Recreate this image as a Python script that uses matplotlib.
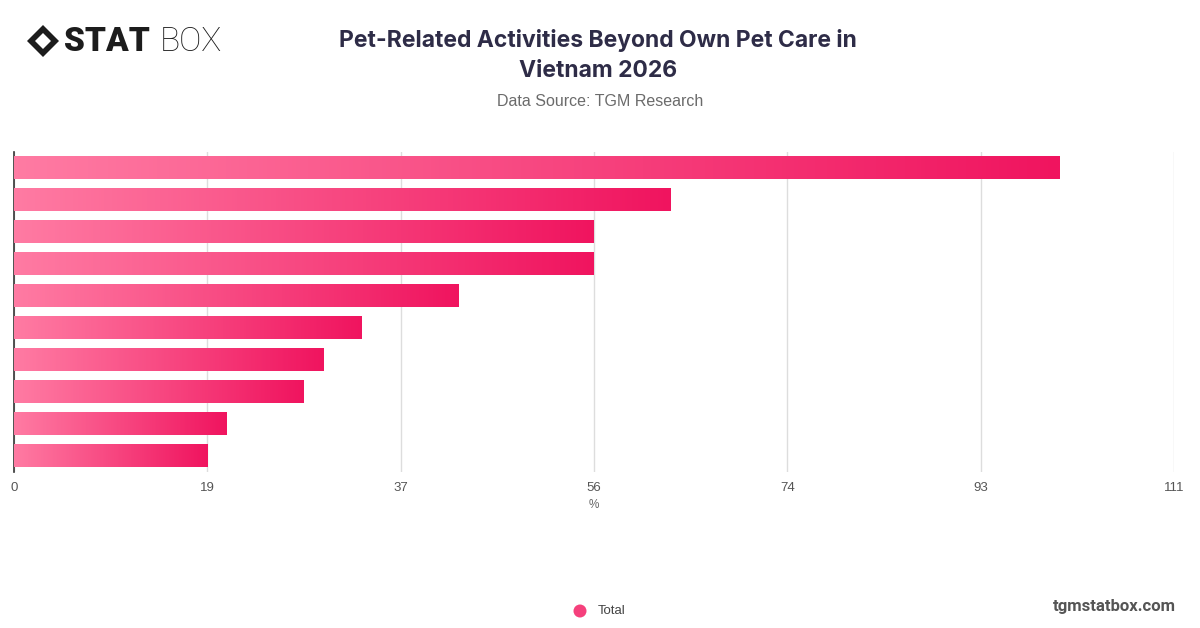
import matplotlib.pyplot as plt
import numpy as np
from matplotlib.colors import LinearSegmentedColormap
from matplotlib.patches import Polygon, Ellipse

# values (%), top bar first; categories have no labels shown
values = [100, 62.8, 55.5, 55.5, 42.5, 33.3, 29.6, 27.7, 20.3, 18.5]
tick_vals = [0, 18.5, 37, 55.5, 74, 92.5, 111]
tick_labels = ['0', '19', '37', '56', '74', '93', '111']
series_name = 'Total'

plt.rcParams['font.family'] = ['Inter', 'DejaVu Sans']
helv = ['Liberation Sans', 'DejaVu Sans']

fig = plt.figure(figsize=(12, 6.28), dpi=100)
ax = fig.add_axes([14 / 1200, 1 - 472 / 628, 1160 / 1200, 320 / 628])

cmap = LinearSegmentedColormap.from_list('pink', ['#ff7ba3', '#f0145f'])
grad = np.linspace(0, 1, 256).reshape(1, -1)
h = 0.69
for i, v in enumerate(values):
    ax.imshow(grad, cmap=cmap, aspect='auto', extent=[0, v, i + h / 2, i - h / 2],
              zorder=3, interpolation='nearest')

ax.set_xlim(0, 111)
ax.set_ylim(len(values) - 0.5, -0.5)
ax.set_xticks(tick_vals)
ax.set_xticklabels(tick_labels, fontsize=9.5, color='#555555', family=helv)
ax.set_yticks([])
ax.grid(axis='x', color='#dddddd', lw=1, zorder=0)
ax.tick_params(axis='x', length=0, pad=7)
for s in ['top', 'right', 'bottom']:
    ax.spines[s].set_visible(False)
ax.spines['left'].set_color('#333333')
ax.spines['left'].set_linewidth(1.2)
ax.set_xlabel('%', fontsize=8.5, color='#666666', labelpad=4, family=helv)

# title and subtitle
fig.text(0.498, 1 - 41 / 628, 'Pet-Related Activities Beyond Own Pet Care in',
         ha='center', va='center', fontsize=16.5, fontweight='bold', color='#2e2c47')
fig.text(0.498, 1 - 71 / 628, 'Vietnam 2026', ha='center', va='center',
         fontsize=16.5, fontweight='bold', color='#2e2c47')
fig.text(0.5, 1 - 101 / 628, 'Data Source: TGM Research', ha='center', va='center',
         fontsize=11.5, color='#6b6b6b', family=helv)

# logo
cx, cy = 43 / 1200, 1 - 41 / 628
dx, dy = 16 / 1200, 16 / 628
fig.patches.append(Polygon([[cx - dx, cy], [cx, cy + dy], [cx + dx, cy], [cx, cy - dy]],
                           closed=True, facecolor='#1c1c1c', transform=fig.transFigure))
dx2, dy2 = 8 / 1200, 8 / 628
fig.patches.append(Polygon([[cx - dx2, cy], [cx, cy + dy2], [cx + dx2, cy], [cx, cy - dy2]],
                           closed=True, facecolor='white', transform=fig.transFigure))
fig.text(64 / 1200, 1 - 42 / 628, 'STAT', ha='left', va='center', fontsize=24,
         fontweight='black', color='#1c1c1c', family=['Roboto', 'DejaVu Sans'])
fig.text(160 / 1200, 1 - 42 / 628, 'BOX', ha='left', va='center', fontsize=24,
         fontweight='light', color='#1c1c1c', family=['Roboto', 'DejaVu Sans'])

# legend
fig.add_artist(Ellipse((580 / 1200, 1 - 611 / 628), 13 / 1200, 13 / 628,
                       transform=fig.transFigure, facecolor='#f5407c', edgecolor='none'))
fig.text(598 / 1200, 1 - 611 / 628, series_name, ha='left', va='center', fontsize=9.5,
         color='#444444', family=helv)
fig.text(1176 / 1200, 1 - 606 / 628, 'tgmstatbox.com', ha='right', va='center',
         fontsize=12, fontweight='bold', color='#555555', family=['Roboto', 'DejaVu Sans'])

fig.savefig('out.png', dpi=100)
